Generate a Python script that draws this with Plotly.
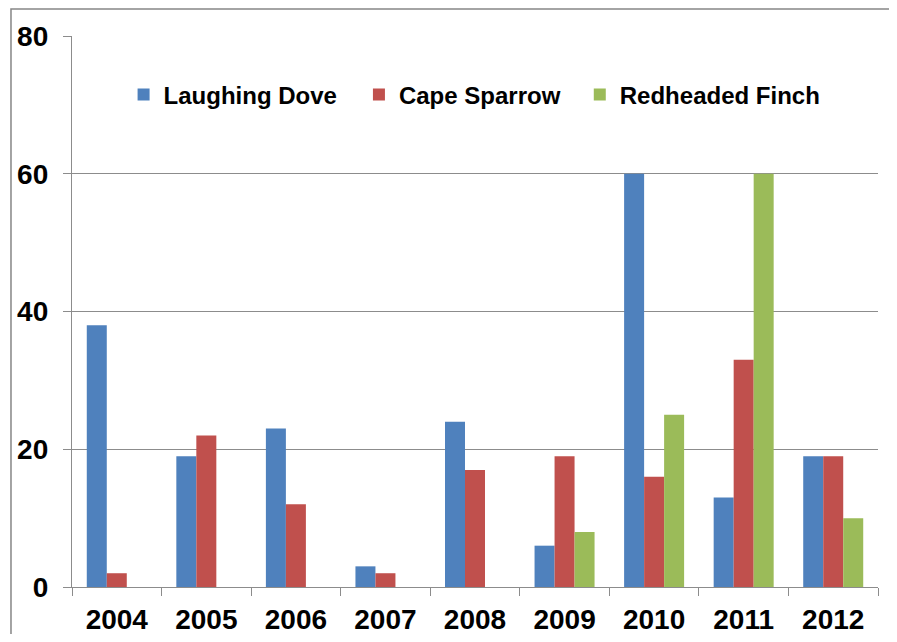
import plotly.graph_objects as go

years = ["2004", "2005", "2006", "2007", "2008", "2009", "2010", "2011", "2012"]
laughing_dove = [38, 19, 23, 3, 24, 6, 60, 13, 19]
cape_sparrow = [2, 22, 12, 2, 17, 19, 16, 33, 19]
redheaded_finch = [0, 0, 0, 0, 0, 8, 25, 60, 10]
y_ticks = [0, 20, 40, 60, 80]

series = [
    ("Laughing Dove", laughing_dove, "#4F81BD", "legend", 0.064),
    ("Cape Sparrow", cape_sparrow, "#C0504D", "legend2", 0.356),
    ("Redheaded Finch", redheaded_finch, "#9BBB59", "legend3", 0.630),
]

font_family = "Liberation Sans, Arial, sans-serif"
fig = go.Figure()
legends = {}
for name, vals, col, lg, lx in series:
    fig.add_trace(go.Bar(x=years, y=vals, name=name, marker_color=col,
                         marker_line_width=0, legend=lg))
    legends[lg] = dict(orientation="h", x=lx, y=0.893, xanchor="left", yanchor="middle",
                       font=dict(size=24, family=font_family, weight="bold", color="black"),
                       bgcolor="rgba(0,0,0,0)", borderwidth=0)

grid = "#8c8c8c"
# page body adds an 8px offset; margins compensate so the plot area lands at x 72-878, y 36-587
fig.update_layout(
    width=881, height=626,
    margin=dict(l=64, r=11, t=28, b=47, autoexpand=False),
    paper_bgcolor="white", plot_bgcolor="white",
    barmode="group", bargap=0.33, bargroupgap=0,
    font=dict(family=font_family, color="black"),
    showlegend=True,
    **legends,
)
fig.update_xaxes(type="category", showgrid=False, showline=True, linecolor=grid, linewidth=1.3,
                 ticks="outside", tickson="boundaries", ticklen=8, tickcolor=grid, tickwidth=1.3,
                 tickfont=dict(size=28, weight="bold"), ticklabelstandoff=7, automargin=False)
fig.update_yaxes(range=[0, 80], tickvals=y_ticks, showgrid=True, gridcolor=grid, gridwidth=1.3,
                 showline=True, linecolor=grid, linewidth=1.3, zeroline=False,
                 ticks="outside", ticklen=8, tickcolor=grid, tickwidth=1.3,
                 tickfont=dict(size=28, weight="bold"), ticklabelstandoff=9, automargin=False)
# outer chart border
fig.add_shape(type="rect", xref="paper", yref="paper", x0=-0.0757, x1=1.2, y0=-0.3, y1=1.049,
              line=dict(color="#868686", width=1.5), fillcolor="rgba(0,0,0,0)", layer="above")

fig.write_html("out.html")
